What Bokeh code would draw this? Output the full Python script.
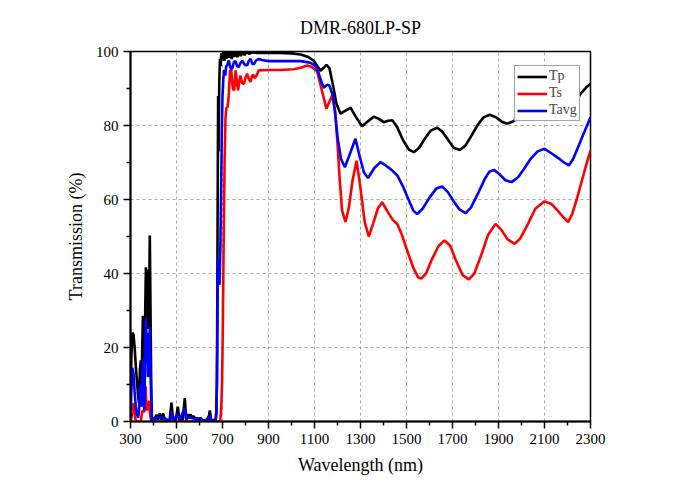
from bokeh.plotting import figure
from bokeh.models import Range1d, FixedTicker, Legend, LegendItem
from bokeh.embed import file_html
from bokeh.resources import INLINE

# ---------------- data ----------------
wl_tp = [300, 304, 308, 313, 318, 323, 328, 333, 337, 341, 345, 348, 351, 354, 357, 360, 364, 367, 370, 373,
         376, 380, 384, 387, 390, 393, 400, 413, 420, 427, 435, 442, 450, 470, 478, 485, 497, 506, 512, 527,
         536, 542, 549, 555, 561, 568, 575, 582, 590, 597, 604, 615, 626, 638, 645, 650, 665, 672, 676, 679,
         681, 683, 686, 689, 692, 695, 700, 704, 708, 712, 717, 722, 727, 733, 740, 746, 752, 758, 765, 772,
         780, 788, 796, 805, 815, 830, 850, 900, 950, 1000, 1040, 1070, 1097, 1115, 1126, 1140, 1152, 1165, 1180, 1195,
         1213, 1235, 1257, 1280, 1307, 1330, 1358, 1380, 1401, 1420, 1438, 1460, 1485, 1510, 1532, 1555, 1580, 1605, 1633, 1655,
         1680, 1705, 1732, 1755, 1780, 1810, 1835, 1862, 1890, 1915, 1938, 1960, 1981, 2000, 2020, 2050, 2100, 2150, 2200, 2230,
         2257, 2280, 2300]
tp = [3, 18, 24, 23.5, 20, 15, 11, 7, 5, 14, 16.5, 8, 20, 28.6, 18, 6, 30, 41.7, 35, 41,
      25, 30, 50.3, 30, 10, 1, 0.3, 1.8, 0.5, 2.2, 0.5, 2.2, 0.3, 0.3, 5.1, 0.5, 0.5, 4, 0.5, 0.5,
      6.3, 1, 2, 1, 2, 0.8, 1.5, 0.5, 1, 0.3, 1, 0.2, 0.3, 0.3, 3, 0.5, 0.3, 1, 10, 60,
      88, 73, 92, 98, 96, 99.5, 98, 100, 97.5, 100, 98, 100, 98.3, 100, 98, 100, 98.5, 100, 98.5, 100,
      98.8, 100, 99, 100, 99.4, 99.8, 99.6, 99.7, 99.6, 99.5, 99.2, 98.6, 97.5, 95.8, 94.8, 95.6, 96.4, 95.5, 91, 86,
      83.2, 84.0, 84.8, 82.3, 79.8, 81.0, 82.4, 81.8, 80.9, 81.3, 81.4, 79.5, 76.0, 73.5, 72.8, 74.0, 76.5, 78.6, 79.4, 78.4,
      76.2, 74.0, 73.4, 74.5, 77.0, 80.2, 82.2, 82.9, 82.2, 81.0, 80.5, 81.0, 81.8, 82.5, 83.3, 84.0, 85.5, 85.2, 84.8, 86.0,
      88.6, 90.2, 91.3]

wl_ts = [300, 304, 308, 312, 316, 320, 325, 345, 350, 355, 360, 363, 366, 369, 373, 377, 381, 385, 390, 400,
         690, 694, 698, 701, 705, 709, 713, 717, 722, 727, 733, 738, 745, 751, 757, 763, 768, 773, 778, 785,
         793, 800, 807, 815, 822, 828, 833, 840, 847, 858, 900, 950, 1009, 1040, 1068, 1090, 1112, 1130, 1152, 1165,
         1177, 1190, 1200, 1210, 1220, 1235, 1250, 1265, 1283, 1300, 1318, 1336, 1355, 1375, 1394, 1415, 1440, 1460, 1480, 1505,
         1530, 1550, 1564, 1585, 1610, 1640, 1665, 1690, 1715, 1745, 1771, 1795, 1825, 1855, 1887, 1910, 1940, 1970, 1995, 2025,
         2060, 2100, 2130, 2160, 2185, 2203, 2220, 2240, 2260, 2280, 2300]
ts = [0, 1, 3, 5, 3.5, 1, 0, 0, 2.5, 3, 2.5, 6, 9.5, 4, 3, 4, 5.6, 2, 0, 0,
      0, 3, 10, 23, 48, 70, 82, 84.8, 85, 88, 94.9, 94.9, 90, 89.5, 94.9, 91.5, 89.5, 92, 93.5, 91.5,
      91.2, 93, 94, 92.5, 91.8, 93.3, 93.8, 92.8, 93.4, 94.9, 95.0, 95.0, 95.2, 95.6, 96.2, 95.8, 94.5, 90, 84.5, 86.5,
      88.1, 84, 75, 65, 57, 53.9, 58, 65, 70.5, 63, 54, 50.0, 53.5, 57.5, 59.3, 57.0, 54.5, 53.4, 50.5, 45.8,
      41.5, 39.0, 38.6, 40.0, 43.8, 47.5, 48.9, 47.5, 43.5, 39.5, 38.4, 40.0, 45.0, 50.5, 53.4, 52.0, 49.2, 48.0, 49.5, 53.0,
      57.5, 59.5, 58.8, 56.8, 55.0, 53.9, 56.0, 60.0, 64.5, 69.0, 73.2]

wl_tavg = [300, 304, 308, 313, 318, 323, 328, 333, 337, 341, 345, 348, 351, 354, 357, 360, 364, 367, 370, 373,
           376, 380, 384, 387, 390, 393, 400, 413, 427, 442, 470, 478, 485, 506, 512, 536, 542, 549, 561, 575,
           590, 604, 626, 645, 650, 670, 674, 677, 680, 683, 687, 691, 694, 697, 700, 704, 708, 712, 716, 720,
           727, 735, 742, 750, 757, 764, 771, 779, 786, 796, 807, 815, 822, 829, 836, 845, 858, 870, 900, 950,
           1000, 1040, 1080, 1100, 1112, 1126, 1140, 1155, 1165, 1180, 1190, 1200, 1215, 1232, 1255, 1278, 1295, 1315, 1333, 1360,
           1387, 1410, 1435, 1460, 1485, 1510, 1530, 1546, 1570, 1600, 1630, 1655, 1680, 1705, 1730, 1757, 1780, 1810, 1840, 1860,
           1880, 1905, 1930, 1957, 1985, 2010, 2040, 2070, 2100, 2130, 2160, 2185, 2206, 2225, 2245, 2265, 2285, 2300]
tavg = [1, 9, 14.5, 13, 8, 4, 2, 1, 3, 9, 10, 4, 12, 16.5, 10, 3, 18, 27.8, 20, 24,
        12, 15, 25.5, 15, 5, 0.5, 0.2, 1, 1.2, 1, 0.2, 2.6, 0.3, 2, 0.3, 3.6, 0.5, 1, 1, 0.8,
        0.5, 0.5, 0.2, 1.6, 0.3, 0.3, 3, 20, 44, 38, 37, 48, 62, 78, 88, 93, 95, 93.5, 96, 96.2,
        97.6, 95.5, 95.3, 97.3, 97.3, 96, 95.8, 97, 97.5, 96.5, 96.2, 97.5, 98, 96.8, 96.5, 97.5, 98.0, 97.7, 97.4, 97.4,
        97.4, 97.4, 97.0, 96.3, 95.3, 92.5, 90.2, 91.0, 90.8, 88, 83, 77, 71, 68.7, 72.5, 76.4, 72, 67.3, 65.8, 68.5,
        70.1, 69.2, 68.0, 66.5, 63.5, 59.8, 57.0, 56.1, 57.5, 60.5, 63.0, 63.5, 62.0, 59.5, 57.3, 56.3, 57.8, 61.5, 65.5, 67.5,
        68.0, 66.8, 65.2, 64.7, 66.0, 68.2, 71.0, 73.0, 73.7, 72.5, 71.2, 70.0, 69.2, 71.0, 74.0, 77.0, 80.0, 82.2]

x_ticks = [300, 500, 700, 900, 1100, 1300, 1500, 1700, 1900, 2100, 2300]
x_minor = [400, 600, 800, 1000, 1200, 1400, 1600, 1800, 2000, 2200]
y_ticks = [0, 20, 40, 60, 80, 100]
y_minor = [10, 30, 50, 70, 90]

title_text = "DMR-680LP-SP"
x_label = "Wavelength (nm)"
y_label = "Transmission (%)"
names = ["Tp", "Ts", "Tavg"]
colors = ["#000000", "#ff0000", "#0000ff"]

FONT = "Liberation Serif"

p = figure(width=692, height=490, output_backend="svg", toolbar_location=None,
           x_range=Range1d(300, 2300), y_range=Range1d(0, 100),
           min_border_left=130, min_border_right=102, min_border_top=51, min_border_bottom=69)

p.title.text = title_text
p.title.align = "center"
p.title.text_font = FONT
p.title.text_font_size = "18px"
p.title.text_font_style = "normal"
p.title.text_color = "black"
p.title.standoff = 28

p.background_fill_color = "white"
p.border_fill_color = "white"
p.outline_line_color = "black"
p.outline_line_width = 1.5
p.outline_line_alpha = 1

for ax, ticks, minor in ((p.xaxis[0], x_ticks, x_minor), (p.yaxis[0], y_ticks, y_minor)):
    ax.ticker = FixedTicker(ticks=ticks, minor_ticks=minor)
    ax.axis_line_width = 2
    ax.axis_line_color = "black"
    ax.major_tick_line_width = 1.5
    ax.minor_tick_line_width = 1.5
    ax.major_tick_out = 7
    ax.major_tick_in = 0
    ax.minor_tick_out = 4
    ax.minor_tick_in = 0
    ax.major_label_text_font = FONT
    ax.major_label_text_font_size = "15px"
    ax.major_label_text_color = "black"
    ax.axis_label_text_font = FONT
    ax.axis_label_text_font_size = "18px"
    ax.axis_label_text_font_style = "normal"
    ax.axis_label_text_color = "black"

p.xaxis.axis_label = x_label
p.yaxis.axis_label = y_label
p.xaxis.major_label_standoff = 5
p.yaxis.major_label_standoff = 5
p.xaxis.axis_label_standoff = 8
p.yaxis.axis_label_standoff = 7

for g, ticks in ((p.xgrid[0], x_ticks), (p.ygrid[0], y_ticks)):
    g.ticker = FixedTicker(ticks=ticks)
    g.grid_line_color = "#a8a8a8"
    g.grid_line_dash = "3 3"
    g.grid_line_width = 1

r_tp = p.line(wl_tp, tp, line_color=colors[0], line_width=2.6)
r_ts = p.line(wl_ts, ts, line_color=colors[1], line_width=2.6)
r_tavg = p.line(wl_tavg, tavg, line_color=colors[2], line_width=2.6)

legend = Legend(items=[LegendItem(label=names[0], renderers=[r_tp]),
                       LegendItem(label=names[1], renderers=[r_ts]),
                       LegendItem(label=names[2], renderers=[r_tavg])],
                location=(384, 300))
legend.label_text_font = FONT
legend.label_text_font_size = "14px"
legend.label_height = 15
legend.glyph_height = 15
legend.glyph_width = 30
legend.label_standoff = 2
legend.spacing = 1
legend.padding = 2
legend.margin = 0
legend.border_line_color = "#444444"
legend.border_line_width = 1
legend.background_fill_alpha = 1
p.add_layout(legend, "center")

open("out.html", "w").write(file_html(p, INLINE))
